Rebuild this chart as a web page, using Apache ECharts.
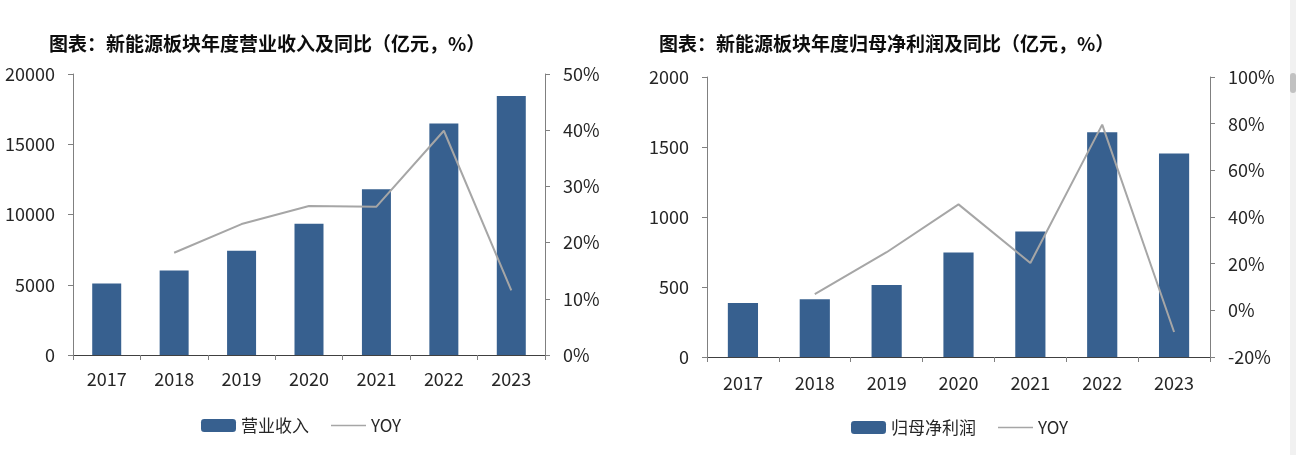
<!DOCTYPE html>
<html>
<head>
<meta charset="utf-8">
<script src="https://cdn.jsdelivr.net/npm/echarts@6/dist/echarts.min.js"></script>
<style>
html,body{margin:0;padding:0;background:#fff;}
#c{width:1296px;height:455px;}
</style>
</head>
<body>
<div id="c"></div>
<script>
const years = ['2017','2018','2019','2020','2021','2022','2023'];
const revenue = [5090, 6020, 7420, 9340, 11800, 16480, 18430];
const revenueYoy = [null, 18.2, 23.3, 26.5, 26.4, 39.9, 11.5];
const profit = [385, 412, 514, 746, 896, 1605, 1453];
const profitYoy = [null, 6.9, 24.9, 45.4, 20.3, 79.6, -9.3];
const titleLeft = '图表：新能源板块年度营业收入及同比（亿元，%）';
const titleRight = '图表：新能源板块年度归母净利润及同比（亿元，%）';

const FONT = '"Noto Sans CJK SC", "Noto Sans", sans-serif';
const BAR = '#37608f';
const LINE = '#a6a6a6';
const labelStyle = {color:'#262626', fontSize:18, fontFamily:FONT};
const lineIcon = 'path://M0,0H35V1.6H0Z';

function yAxis(gridIndex, min, max, interval, pos, pct){
  return {
    type:'value', gridIndex, min, max, interval, position:pos,
    axisLine:{show:true, lineStyle:{color:'#808080', width:1}},
    axisTick:{show:true, length:5, lineStyle:{color:'#808080'}},
    splitLine:{show:false},
    axisLabel:Object.assign({margin:18, formatter: pct ? (v => v + '%') : (v => String(v))}, labelStyle)
  };
}
function xAxis(gridIndex, margin){
  return {
    type:'category', gridIndex, data:years,
    axisLine:{show:true, lineStyle:{color:'#404040', width:1}},
    axisTick:{show:true, length:5, interval:0, alignWithLabel:false, lineStyle:{color:'#808080'}},
    axisLabel:Object.assign({margin:margin, interval:0}, labelStyle)
  };
}
const legendText = {fontSize:17, color:'#262626', fontFamily:FONT};

const chart = echarts.init(document.getElementById('c'), null, {renderer:'canvas'});
chart.setOption({
  animation:false,
  backgroundColor:'#fff',
  title:[
    {text:titleLeft, left:44, top:29, textStyle:{fontSize:19, fontWeight:'bold', color:'#0d0d0d', fontFamily:FONT}},
    {text:titleRight, left:654, top:29, textStyle:{fontSize:19, fontWeight:'bold', color:'#0d0d0d', fontFamily:FONT}}
  ],
  legend:[
    {data:['营业收入', {name:'YOY', icon:lineIcon}], left:196, top:412, itemWidth:35, itemHeight:13, itemGap:22,
      textStyle:legendText, selectedMode:false},
    {data:['归母净利润', {name:'YOY ', icon:lineIcon}], left:846, top:414, itemWidth:35, itemHeight:13, itemGap:22,
      textStyle:legendText, selectedMode:false, formatter:function(n){return n.trim();}}
  ],
  grid:[
    {left:73, right:751, top:74, bottom:100},
    {left:707, right:86, top:77, bottom:98}
  ],
  xAxis:[xAxis(0,15), xAxis(1,17)],
  yAxis:[
    yAxis(0, 0, 20000, 5000, 'left', false),
    yAxis(0, 0, 50, 10, 'right', true),
    yAxis(1, 0, 2000, 500, 'left', false),
    yAxis(1, -20, 100, 20, 'right', true)
  ],
  series:[
    {name:'营业收入', type:'bar', xAxisIndex:0, yAxisIndex:0, data:revenue, barWidth:'43%', itemStyle:{color:BAR}},
    {name:'YOY', type:'line', xAxisIndex:0, yAxisIndex:1, data:revenueYoy, symbol:'none', lineStyle:{color:LINE, width:2}, itemStyle:{color:LINE}},
    {name:'归母净利润', type:'bar', xAxisIndex:1, yAxisIndex:2, data:profit, barWidth:'42%', itemStyle:{color:BAR}},
    {name:'YOY ', type:'line', xAxisIndex:1, yAxisIndex:3, data:profitYoy, symbol:'none', lineStyle:{color:LINE, width:2}, itemStyle:{color:LINE}}
  ],
  graphic:[
    {type:'rect', left:1290, top:0, shape:{width:6, height:455}, style:{fill:'#f1f1f1'}, silent:true},
    {type:'rect', left:1290, top:73, shape:{width:6, height:20, r:3}, style:{fill:'#c1c1c1'}, silent:true}
  ]
});
</script>
</body>
</html>
